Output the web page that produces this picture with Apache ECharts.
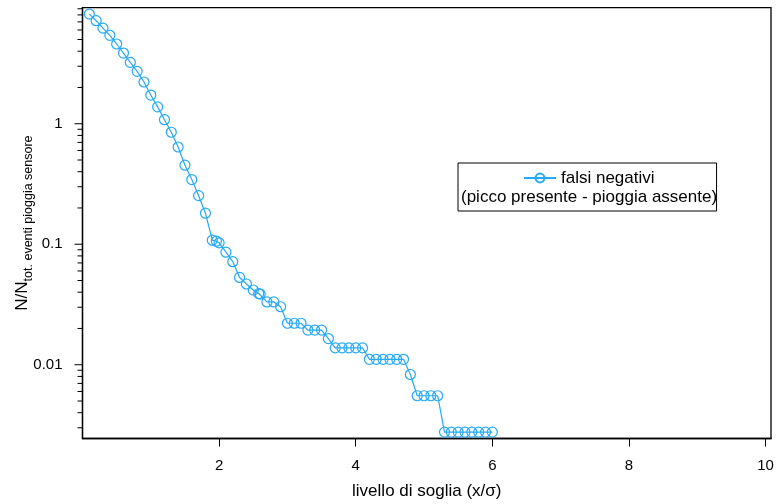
<!DOCTYPE html>
<html>
<head>
<meta charset="utf-8">
<script src="https://cdn.jsdelivr.net/npm/echarts@6/dist/echarts.min.js"></script>
<style>
html,body{margin:0;padding:0;background:#fff;}
#chart{width:777px;height:504px;}
</style>
</head>
<body>
<div id="chart"></div>
<script>
// ---- data ----
const seriesName = 'falsi negativi';
const legendLine2 = '(picco presente - pioggia assente)';
const xTitle = 'livello di soglia (x/\u03c3)';
const yTitleMain = 'N/N';
const yTitleSub = 'tot. eventi pioggia sensore';

const thresholds = [0.1,0.2,0.3,0.4,0.5,0.6,0.7,0.8,0.9,1.0,
  1.1,1.2,1.3,1.4,1.5,1.6,1.7,1.8,1.9,1.96,2.0,
  2.1,2.2,2.3,2.4,2.5,2.58,2.6,2.7,2.8,2.9,3.0,
  3.1,3.2,3.3,3.4,3.5,3.6,3.7,3.8,3.9,4.0,
  4.1,4.2,4.3,4.4,4.5,4.6,4.7,4.8,4.9,5.0,
  5.1,5.2,5.3,5.4,5.5,5.6,5.7,5.8,5.9,6.0];
const falsiNegativi = [8.13,7.16,6.22,5.42,4.59,3.86,3.23,2.72,2.22,1.73,
  1.38,1.08,0.850,0.641,0.453,0.344,0.253,0.181,0.108,0.106,0.1027,
  0.0859,0.0716,0.0530,0.0468,0.0417,0.0390,0.0386,0.0332,0.0332,0.0303,0.0221,
  0.0221,0.0221,0.0194,0.0194,0.0194,0.0165,0.0138,0.0138,0.0138,0.0138,
  0.0138,0.0111,0.0111,0.0111,0.0111,0.0111,0.0111,0.0083,0.00553,0.00553,
  0.00553,0.00553,0.00276,0.00276,0.00276,0.00276,0.00276,0.00276,0.00276,0.00276];

const xTicks = [2,4,6,8,10];
const yMajorTicks = [0.01,0.1,1];
const yMinorTicks = [0.003,0.004,0.005,0.006,0.007,0.008,0.009,
  0.02,0.03,0.04,0.05,0.06,0.07,0.08,0.09,
  0.2,0.3,0.4,0.5,0.6,0.7,0.8,0.9,
  2,3,4,5,6,7,8,9];

// ---- chart ----
const F = '"Liberation Sans", Arial, Helvetica, sans-serif';
const BLUE = '#22aaff';
const X_MIN = 0, X_MAX = 10.08, Y_MIN = 0.002443, Y_MAX = 9.2;

const tickData = yMajorTicks.map(v => [X_MIN, v, 8]).concat(yMinorTicks.map(v => [X_MIN, v, 5]));

function fmtLog(v){
  const l = Math.log10(v), r = Math.round(l);
  if (Math.abs(l - r) > 1e-6) return '';
  const val = Math.pow(10, r);
  if (!yMajorTicks.some(t => Math.abs(Math.log10(t) - r) < 1e-6)) return '';
  return r >= 0 ? String(val) : val.toFixed(-r);
}

const chart = echarts.init(document.getElementById('chart'));
chart.setOption({
  animation: false,
  backgroundColor: '#fff',
  grid: {left: 82.5, top: 7.6, width: 688.5, height: 430.9, show: true,
    outerBoundsMode: 'none', containLabel: false,
    borderColor: '#000', borderWidth: 1.3, backgroundColor: 'transparent'},
  xAxis: {
    type: 'value', min: X_MIN, max: X_MAX,
    name: xTitle, nameLocation: 'middle', nameGap: 44, nameMoveOverlap: false,
    nameTextStyle: {fontFamily: F, fontSize: 17, color: '#000'},
    axisLine: {show: true, lineStyle: {color: '#000', width: 1.3}},
    axisTick: {show: true, inside: false, length: 8, customValues: xTicks, lineStyle: {color: '#000', width: 1}},
    axisLabel: {show: true, margin: 20, fontFamily: F, fontSize: 15, color: '#000', customValues: xTicks},
    splitLine: {show: false}
  },
  yAxis: {
    type: 'log', logBase: 10, min: Y_MIN, max: Y_MAX,
    name: '{a|' + yTitleMain + '}{b|' + yTitleSub + '}',
    nameLocation: 'middle', nameRotate: 90, nameGap: 50, nameMoveOverlap: false,
    nameTextStyle: {fontFamily: F, color: '#000',
      rich: {
        a: {fontFamily: F, fontSize: 17, lineHeight: 20, color: '#000'},
        b: {fontFamily: F, fontSize: 12.5, lineHeight: 20, color: '#000', padding: [13,0,0,0]}
      }},
    axisLine: {show: true, lineStyle: {color: '#000', width: 1.3}},
    axisTick: {show: false},
    minorTick: {show: false},
    axisLabel: {show: true, margin: 20, fontFamily: F, fontSize: 15, color: '#000', formatter: fmtLog,
      showMinLabel: false, showMaxLabel: false},
    splitLine: {show: false}
  },
  legend: {
    data: [seriesName], left: 458, top: 163, orient: 'horizontal',
    itemWidth: 32, itemHeight: 11,
    padding: [5, 62, 23, 65],
    borderColor: '#000', borderWidth: 1, borderRadius: 0,
    textStyle: {fontFamily: F, fontSize: 17, color: '#000', lineHeight: 20}
  },
  graphic: [{
    type: 'text', left: 461, top: 189, z: 100,
    style: {text: legendLine2, font: '17px ' + F, fill: '#000'}
  }],
  series: [
    {
      name: seriesName, type: 'line',
      data: thresholds.map((x, i) => [x, falsiNegativi[i]]),
      color: BLUE,
      symbol: 'circle', symbolSize: 10,
      lineStyle: {color: BLUE, width: 1.2},
      itemStyle: {color: 'rgba(255,255,255,0)', borderColor: BLUE, borderWidth: 1.2},
      emphasis: {disabled: true},
      clip: false, z: 3
    },
    {
      name: 'yticks', type: 'custom', silent: true, clip: false, z: 5,
      data: tickData,
      encode: {x: 0, y: 1},
      renderItem: function(params, api){
        const p = api.coord([api.value(0), api.value(1)]);
        const len = api.value(2);
        return {type: 'line', shape: {x1: p[0] - len, y1: p[1], x2: p[0], y2: p[1]},
          style: {stroke: '#000', lineWidth: 1}};
      }
    }
  ]
});
</script>
</body>
</html>
